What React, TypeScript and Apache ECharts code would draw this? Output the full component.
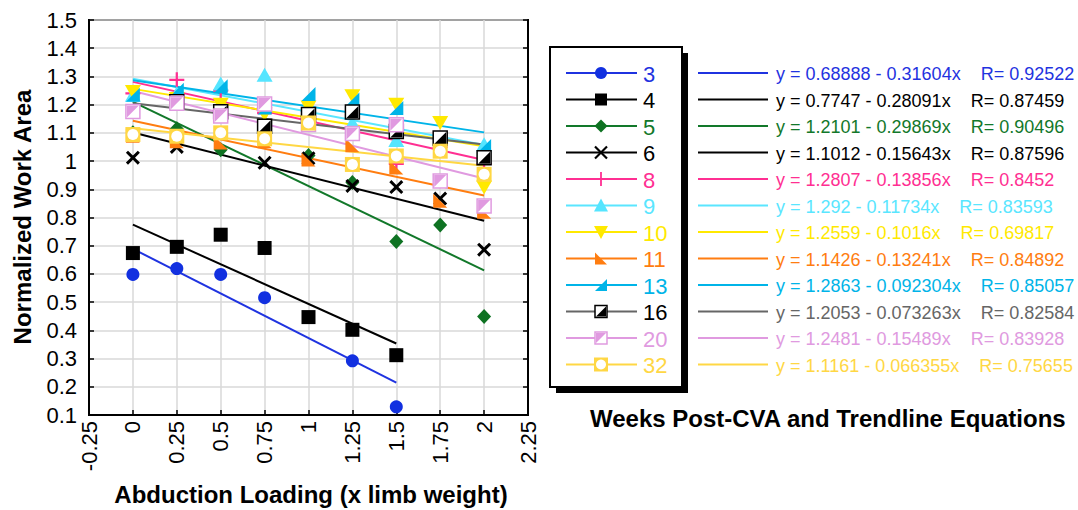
import React, { useEffect, useRef } from 'react';
import * as echarts from 'echarts';

// ---------- data ----------
const xs = [0, 0.25, 0.5, 0.75, 1, 1.25, 1.5, 1.75, 2];
const weeks = ['3', '4', '5', '6', '8', '9', '10', '11', '13', '16', '20', '32'];

const wk3 = [0.598, 0.619, 0.598, 0.516, null, 0.292, 0.129, null, null];
const wk4 = [0.674, 0.696, 0.739, 0.692, 0.447, 0.402, 0.312, null, null];
const wk5 = [1.1, 1.115, 1.04, null, 1.02, 0.924, 0.715, 0.773, 0.449];
const wk6 = [1.012, 1.05, null, 0.994, 1.01, 0.912, 0.908, 0.867, 0.686];
const wk8 = [1.24, 1.288, 1.25, 1.17, 1.15, 1.12, 0.99, 1.05, 0.99];
const wk9 = [1.235, 1.24, 1.275, 1.306, 1.2, 1.136, 1.075, 1.08, 1.06];
const wk10 = [1.245, 1.22, 1.2, 1.165, 1.19, 1.23, 1.2, 1.135, 0.906];
const wk11 = [1.09, 1.07, 1.066, 1.07, 1.006, 1.056, 0.977, 0.859, 0.82];
const wk13 = [1.235, 1.253, 1.265, 1.19, 1.238, 1.218, 1.188, null, 1.053];
const wk16 = [null, 1.21, 1.175, 1.123, 1.165, 1.174, 1.105, 1.082, 1.012];
const wk20 = [1.176, 1.205, 1.16, 1.202, 1.13, 1.098, 1.129, 0.929, 0.841];
const wk32 = [1.094, 1.088, 1.1, 1.079, 1.135, 0.988, 1.018, 1.035, 0.953];
const seriesValues = [wk3, wk4, wk5, wk6, wk8, wk9, wk10, wk11, wk13, wk16, wk20, wk32];

const interceptText = ['0.68888', '0.7747', '1.2101', '1.1012', '1.2807', '1.292', '1.2559', '1.1426', '1.2863', '1.2053', '1.2481', '1.1161'];
const slopeText = ['0.31604', '0.28091', '0.29869', '0.15643', '0.13856', '0.11734', '0.1016', '0.13241', '0.092304', '0.073263', '0.15489', '0.066355'];
const rText = ['0.92522', '0.87459', '0.90496', '0.87596', '0.8452', '0.83593', '0.69817', '0.84892', '0.85057', '0.82584', '0.83928', '0.75655'];
const trendStart = [0, 0, 0, 0, 0, 0, 0, 0, 0, 0, 0, 0];
const trendEnd = [1.5, 1.5, 2, 2, 2, 2, 2, 2, 2, 2, 2, 2];

// ---------- styles ----------
const lineColors = ['#1f33e0', '#000000', '#12782a', '#000000', '#ff2f92', '#5ae6ff', '#ffe900', '#ff7d10', '#00b4e8', '#666666', '#e09ae0', '#ffd744'];
const markColors = ['#1230e0', '#000000', '#0e7222', '#000000', '#ff2f92', '#55e5ff', '#ffe900', '#ff7d10', '#00b4e8', '#000000', '#e09ae0', '#ffd744'];
const labelColors = ['#1f33e0', '#000000', '#12782a', '#000000', '#ff2f92', '#5ae6ff', '#ffe900', '#ff7d10', '#00b4e8', '#000000', '#e09ae0', '#ffd744'];
const eqColors = ['#1f33e0', '#000000', '#12782a', '#000000', '#ff2f92', '#5ae6ff', '#ffe900', '#ff7d10', '#00b4e8', '#666666', '#e09ae0', '#ffd744'];
const kinds = ['circle', 'square', 'diamond', 'x', 'plus', 'up', 'down', 'bl', 'br', 'half16', 'half20', 'circsq'];

const FONT = 'Liberation Sans, Arial, Helvetica, sans-serif';

const P_X = 'path://M0,1.8L1.8,0L6,4.2L10.2,0L12,1.8L7.8,6L12,10.2L10.2,12L6,7.8L1.8,12L0,10.2L4.2,6Z';
const P_PLUS = 'path://M5.1,0H6.9V5.1H12V6.9H6.9V12H5.1V6.9H0V5.1H5.1Z';
const P_BL = 'path://M0,0L0,10L10,10Z';
const P_BR = 'path://M10,0L10,10L0,10Z';
const P_TL = 'path://M0,0L10,0L0,10Z';

function layersFor(kind: string, color: string): any[] {
  switch (kind) {
    case 'circle': return [{ symbol: 'circle', size: 13, color }];
    case 'square': return [{ symbol: 'rect', size: 14, color }];
    case 'diamond': return [{ symbol: 'diamond', size: [14, 15], color }];
    case 'x': return [{ symbol: P_X, size: 14, color }];
    case 'plus': return [{ symbol: P_PLUS, size: 15, color }];
    case 'up': return [{ symbol: 'triangle', size: [16, 14], color }];
    case 'down': return [{ symbol: 'triangle', size: [16, 14], color, rotate: 180 }];
    case 'bl': return [{ symbol: P_BL, size: 14, color }];
    case 'br': return [{ symbol: P_BR, size: 14, color }];
    case 'half16': return [
      { symbol: 'rect', size: 14, color: '#ffffff', borderColor: color, borderWidth: 1.5 },
      { symbol: P_BR, size: 12, color },
    ];
    case 'half20': return [
      { symbol: 'rect', size: 14, color: '#ffffff', borderColor: color, borderWidth: 1.5 },
      { symbol: P_TL, size: 12, color },
    ];
    case 'circsq': return [
      { symbol: 'rect', size: 15, color },
      { symbol: 'circle', size: 11, color: '#ffffff' },
    ];
  }
  return [];
}

function legendMarker(kind: string, cx: number, cy: number, color: string): any[] {
  const s = 6;
  switch (kind) {
    case 'circle': return [{ type: 'circle', shape: { cx, cy, r: 6 }, style: { fill: color } }];
    case 'square': return [{ type: 'rect', shape: { x: cx - 6, y: cy - 6, width: 12, height: 12 }, style: { fill: color } }];
    case 'diamond': return [{ type: 'polygon', shape: { points: [[cx, cy - 6.5], [cx + 6.5, cy], [cx, cy + 6.5], [cx - 6.5, cy]] }, style: { fill: color } }];
    case 'x': return [
      { type: 'line', shape: { x1: cx - 6, y1: cy - 6, x2: cx + 6, y2: cy + 6 }, style: { stroke: color, lineWidth: 2.2 } },
      { type: 'line', shape: { x1: cx - 6, y1: cy + 6, x2: cx + 6, y2: cy - 6 }, style: { stroke: color, lineWidth: 2.2 } },
    ];
    case 'plus': return [
      { type: 'line', shape: { x1: cx, y1: cy - 7, x2: cx, y2: cy + 7 }, style: { stroke: color, lineWidth: 1.8 } },
    ];
    case 'up': return [{ type: 'polygon', shape: { points: [[cx, cy - 7], [cx + 7, cy + 6], [cx - 7, cy + 6]] }, style: { fill: color } }];
    case 'down': return [{ type: 'polygon', shape: { points: [[cx - 7, cy - 6], [cx + 7, cy - 6], [cx, cy + 7]] }, style: { fill: color } }];
    case 'bl': return [{ type: 'polygon', shape: { points: [[cx - s, cy - s], [cx - s, cy + s], [cx + s, cy + s]] }, style: { fill: color } }];
    case 'br': return [{ type: 'polygon', shape: { points: [[cx + s, cy - s], [cx + s, cy + s], [cx - s, cy + s]] }, style: { fill: color } }];
    case 'half16': return [
      { type: 'rect', shape: { x: cx - 6, y: cy - 6, width: 12, height: 12 }, style: { fill: '#fff', stroke: color, lineWidth: 1.5 } },
      { type: 'polygon', shape: { points: [[cx + 5, cy - 5], [cx + 5, cy + 5], [cx - 5, cy + 5]] }, style: { fill: color } },
    ];
    case 'half20': return [
      { type: 'rect', shape: { x: cx - 6, y: cy - 6, width: 12, height: 12 }, style: { fill: '#fff', stroke: color, lineWidth: 1.5 } },
      { type: 'polygon', shape: { points: [[cx - 5, cy - 5], [cx + 5, cy - 5], [cx - 5, cy + 5]] }, style: { fill: color } },
    ];
    case 'circsq': return [
      { type: 'rect', shape: { x: cx - 7, y: cy - 7, width: 14, height: 14 }, style: { fill: color } },
      { type: 'circle', shape: { cx, cy, r: 5 }, style: { fill: '#fff' } },
    ];
  }
  return [];
}

export default function App() {
  const ref = useRef<HTMLDivElement>(null);

  useEffect(() => {
    if (!ref.current) return;
    const chart = echarts.init(ref.current, null, { renderer: 'svg' });

    const series: any[] = [];
    // trendlines
    weeks.forEach((w, i) => {
      const a = parseFloat(interceptText[i]);
      const b = parseFloat(slopeText[i]);
      const x0 = trendStart[i];
      const x1 = trendEnd[i];
      series.push({
        name: 'trend ' + w,
        type: 'line',
        data: [[x0, a - b * x0], [x1, a - b * x1]],
        symbol: 'none',
        silent: true,
        lineStyle: { color: lineColors[i], width: 2 },
        z: 2,
      });
    });
    // markers
    weeks.forEach((w, i) => {
      const pts = xs
        .map((x, j) => (seriesValues[i][j] == null ? null : [x, seriesValues[i][j]]))
        .filter((p) => p !== null);
      layersFor(kinds[i], markColors[i]).forEach((L, k) => {
        series.push({
          name: k === 0 ? w : w + ' layer',
          type: 'scatter',
          data: pts,
          symbol: L.symbol,
          symbolSize: L.size,
          symbolRotate: L.rotate || 0,
          silent: true,
          itemStyle: {
            color: L.color,
            borderColor: L.borderColor || L.color,
            borderWidth: L.borderWidth || 0,
            opacity: 1,
          },
          z: 3,
        });
      });
    });

    // legend box + equations
    const graphic: any[] = [];
    graphic.push({ type: 'rect', shape: { x: 556, y: 53, width: 132, height: 340 }, style: { fill: '#000' }, z: 10 });
    graphic.push({ type: 'rect', shape: { x: 550, y: 47, width: 132, height: 340 }, style: { fill: '#fff', stroke: '#000', lineWidth: 2 }, z: 10 });
    weeks.forEach((w, i) => {
      const y = 73 + i * 26.5;
      const els: any[] = [];
      els.push({ type: 'line', shape: { x1: 566, y1: y, x2: 637, y2: y }, style: { stroke: lineColors[i], lineWidth: 2 } });
      els.push(...legendMarker(kinds[i], 601, y, markColors[i]));
      els.push({ type: 'text', x: 643, y: y + 1, style: { text: w, fill: labelColors[i], font: '22px ' + FONT, verticalAlign: 'middle', align: 'left' } });
      els.push({ type: 'line', shape: { x1: 698, y1: y, x2: 768, y2: y }, style: { stroke: lineColors[i], lineWidth: 2 } });
      const nb = '\u00a0';
      els.push({
        type: 'text', x: 776, y: y + 1,
        style: {
          text: 'y = ' + interceptText[i] + ' - ' + slopeText[i] + 'x' + nb + nb + nb + nb + 'R= ' + rText[i],
          fill: eqColors[i], font: '18px ' + FONT, verticalAlign: 'middle', align: 'left',
        },
      });
      els.forEach((e) => { e.z = 12; graphic.push(e); });
    });
    graphic.push({ type: 'text', x: 590, y: 418, z: 12, style: { text: 'Weeks Post-CVA and Trendline Equations', fill: '#000', font: 'bold 24px ' + FONT, verticalAlign: 'middle', align: 'left' } });
    graphic.push({ type: 'text', x: 311, y: 494, z: 12, style: { text: 'Abduction Loading (x limb weight)', fill: '#000', font: 'bold 24px ' + FONT, verticalAlign: 'middle', align: 'center' } });
    graphic.push({ type: 'text', x: 22, y: 217, rotation: Math.PI / 2, z: 12, style: { text: 'Normalized Work Area', fill: '#000', font: 'bold 24px ' + FONT, verticalAlign: 'middle', align: 'center' } });

    chart.setOption({
      animation: false,
      backgroundColor: '#ffffff',
      grid: { left: 89, top: 20, right: 550, bottom: 95, show: true, borderColor: '#000', borderWidth: 2, backgroundColor: 'transparent' },
      xAxis: {
        type: 'value', min: -0.25, max: 2.25, interval: 0.25,
        axisLine: { show: true, onZero: false, lineStyle: { color: '#000', width: 2 } },
        axisTick: { show: true, inside: true, length: 5, lineStyle: { color: '#000', width: 1.5 } },
        axisLabel: { rotate: 90, fontSize: 22, color: '#000', fontFamily: FONT, margin: 6 },
        splitLine: { show: true, lineStyle: { color: '#d9d9d9', width: 1.5 } },
      },
      yAxis: [
        {
          type: 'value', min: 0.1, max: 1.5, interval: 0.1,
          axisLine: { show: true, onZero: false, lineStyle: { color: '#000', width: 2 } },
          axisTick: { show: true, inside: true, length: 5, lineStyle: { color: '#000', width: 1.5 } },
          axisLabel: { fontSize: 22, color: '#000', fontFamily: FONT, margin: 12 },
          splitLine: { show: true, lineStyle: { color: '#d9d9d9', width: 1.5 } },
        },
        {
          type: 'value', min: 0.1, max: 1.5, interval: 0.1, position: 'right',
          axisLine: { show: true, onZero: false, lineStyle: { color: '#000', width: 2 } },
          axisTick: { show: true, inside: true, length: 5, lineStyle: { color: '#000', width: 1.5 } },
          axisLabel: { show: false },
          splitLine: { show: false },
        },
      ],
      series,
      graphic,
    });

    return () => chart.dispose();
  }, []);

  return (
    <div
      ref={ref}
      style={{ position: 'fixed', left: 0, top: 0, width: 1078, height: 510, background: '#fff' }}
    />
  );
}
